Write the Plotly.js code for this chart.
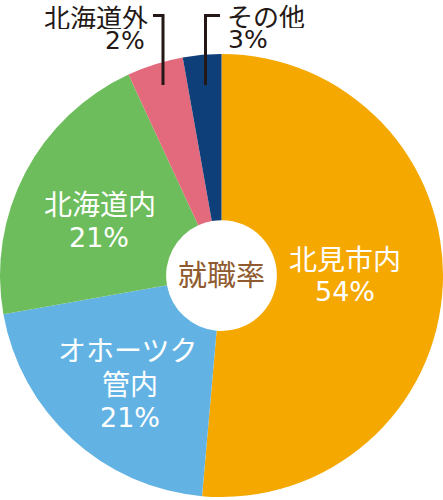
<!DOCTYPE html>
<html>
<head>
<meta charset="utf-8">
<script src="https://cdn.plot.ly/plotly-3.0.1.min.js"></script>
<style>
html,body{margin:0;padding:0;background:#fff;}
#chart{width:443px;height:500px;}
</style>
</head>
<body>
<div id="chart"></div>
<script>
// Categories in drawing order (clockwise from 12 o'clock)
const categories = ["北見市内", "オホーツク管内", "北海道内", "北海道外", "その他"];
// Slice sizes as drawn in the picture (share of the circle, %)
const values = [51.4, 20.8, 20.9, 4.1, 2.8];
// Percent labels printed on the chart
const labelPercents = ["54%", "21%", "21%", "2%", "3%"];
const colors = ["#f5a800", "#62b3e4", "#6dbd5d", "#e26a7c", "#0f3f79"];
const centerText = "就職率";

const W = 443, H = 500;
const px = x => x / W;
const py = y => 1 - y / H;
const FONT = '"Noto Sans CJK JP", "Noto Sans", sans-serif';
const NUMFONT = '"DejaVu Sans", sans-serif';

const trace = {
  type: "pie",
  labels: categories,
  values: values,
  sort: false,
  direction: "clockwise",
  rotation: 0,
  hole: 0.25,
  marker: {colors: colors, line: {width: 0}},
  textinfo: "none",
  hoverinfo: "label+value",
  showlegend: false,
  domain: {x: [0, 1], y: [0.006, 0.892]}
};

function ann(text, x, y, size, color, xanchor, family, h) {
  return {
    text: text, x: px(x), y: py(y), xref: "paper", yref: "paper",
    showarrow: false, xanchor: xanchor || "center", yanchor: "middle",
    height: h, borderpad: 0,
    font: {family: family || FONT, size: size, color: color}
  };
}

const white = "#ffffff", dark = "#231815";
const annotations = [
  ann(categories[0], 344.5, 257.5, 28, white, "center", FONT, 30),
  ann(labelPercents[0], 345, 291, 27, white, "center", NUMFONT, 28),
  ann("オホーツク", 127.5, 348.5, 28, white, "center", FONT, 30),
  ann("管内", 130, 382.5, 28, white, "center", FONT, 30),
  ann(labelPercents[1], 130, 417, 27, white, "center", NUMFONT, 28),
  ann(categories[2], 99.5, 202.5, 28, white, "center", FONT, 30),
  ann(labelPercents[2], 98.5, 237, 27, white, "center", NUMFONT, 28),
  ann(categories[3], 149, 16, 26, dark, "right", FONT, 26),
  ann(labelPercents[3], 146, 41, 25, dark, "right", NUMFONT, 23),
  ann(categories[4], 226, 15, 26, dark, "left", FONT, 26),
  ann(labelPercents[4], 227, 40, 25, dark, "left", NUMFONT, 23),
  ann(centerText, 221.5, 273, 29, "#8f5a2e", "center", FONT)
];

const lineStyle = {color: dark, width: 3};
const shapes = [
  {type: "path", xref: "paper", yref: "paper",
   path: `M ${px(153)} ${py(15.5)} L ${px(163)} ${py(15.5)} L ${px(163)} ${py(85)}`,
   line: lineStyle},
  {type: "path", xref: "paper", yref: "paper",
   path: `M ${px(220)} ${py(15.5)} L ${px(205.5)} ${py(15.5)} L ${px(205.5)} ${py(85)}`,
   line: lineStyle}
];

const layout = {
  width: W, height: H,
  margin: {l: 0, r: 0, t: 0, b: 0},
  paper_bgcolor: "#ffffff",
  plot_bgcolor: "#ffffff",
  annotations: annotations,
  shapes: shapes
};

Plotly.newPlot("chart", [trace], layout, {displayModeBar: false, staticPlot: true});
</script>
</body>
</html>
